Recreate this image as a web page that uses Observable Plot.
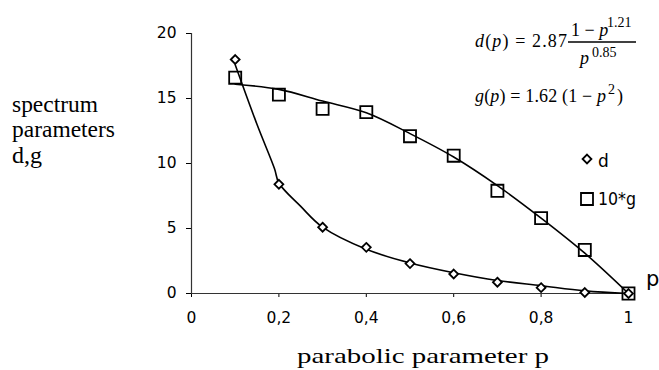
<!DOCTYPE html>
<html><head><meta charset="utf-8">
<script src="https://cdn.jsdelivr.net/npm/d3@7"></script>
<script src="https://cdn.jsdelivr.net/npm/@observablehq/plot@0.6"></script>
<style>body{margin:0;background:#fff} svg{display:block}</style>
</head><body><div id="chart"></div>
<script>
// measured points
const pValues = [0.1, 0.2, 0.3, 0.4, 0.5, 0.6, 0.7, 0.8, 0.9, 1.0];
const dValues = [18.0, 8.4, 5.1, 3.55, 2.3, 1.5, 0.87, 0.45, 0.08, 0.0];
const g10Values = [16.6, 15.3, 14.2, 13.95, 12.1, 10.6, 7.9, 5.8, 3.35, 0.0];
// fitted curves
const dFitP = [0.1, 0.15, 0.19, 0.2, 0.25, 0.3, 0.4, 0.5, 0.6, 0.7, 0.8, 0.9, 1.0];
const dFitV = [17.6, 13.0, 9.6, 8.5, 6.7, 5.1, 3.4, 2.35, 1.6, 1.0, 0.6, 0.2, 0.0];
const gFitP = [0.1, 0.2, 0.3, 0.4, 0.5, 0.6, 0.7, 0.8, 0.9, 1.0];
const gFitV = [16.1, 15.7, 14.8, 13.9, 12.3, 10.5, 8.3, 5.8, 3.1, 0.0];
// ticks
const xTicks = [0, 0.2, 0.4, 0.6, 0.8, 1];
const xTickLabels = ["0", "0,2", "0,4", "0,6", "0,8", "1"];
const yTicks = [0, 5, 10, 15, 20];

const pts = (xs, ys) => xs.map((x, i) => ({x, y: ys[i]}));
const dPts = pts(pValues, dValues);
const gPts = pts(pValues, g10Values);
const dFit = pts(dFitP, dFitV);
const gFit = pts(gFitP, gFitV);

const svg = Plot.plot({
  width: 659, height: 370,
  marginLeft: 191, marginRight: 31, marginTop: 33, marginBottom: 77,
  style: {fontFamily: "DejaVu Sans, sans-serif", fontSize: "15.5px", color: "#000", background: "#fff"},
  x: {domain: [0, 1], ticks: xTicks, tickFormat: d => xTickLabels[xTicks.indexOf(d)], tickSize: 4, tickPadding: 14, label: null},
  y: {domain: [0, 20], ticks: yTicks, tickSize: 5, tickPadding: 10, label: null},
  marks: [
    Plot.ruleY([0], {stroke: "#333", strokeWidth: 1.2}),
    Plot.ruleX([0], {stroke: "#333", strokeWidth: 1.2}),
    Plot.line(gFit, {x: "x", y: "y", curve: "catmull-rom", stroke: "#000", strokeWidth: 1.6}),
    Plot.line(dFit, {x: "x", y: "y", curve: "catmull-rom", stroke: "#000", strokeWidth: 1.6}),
    Plot.dot(gPts, {x: "x", y: "y", symbol: "square", r: 6.8, stroke: "#000", strokeWidth: 1.8, fill: "none"}),
    Plot.dot(dPts, {x: "x", y: "y", symbol: "diamond2", r: 4, stroke: "#000", strokeWidth: 1.8, fill: "#fff"})
  ]
});
document.getElementById("chart").appendChild(svg);

const s = d3.select(svg);
const layer = s.append("g").attr("text-anchor", "start").attr("fill", "#000");
function txt(x, y, str, opts = {}) {
  const t = layer.append("text").attr("x", x).attr("y", y)
    .attr("font-family", opts.family || "Liberation Serif, serif")
    .attr("font-size", opts.size || 16);
  if (opts.len) t.attr("textLength", opts.len).attr("lengthAdjust", opts.adjust || "spacingAndGlyphs");
  if (opts.italic) t.attr("font-style", "italic");
  t.text(str);
  return t;
}
// y title
txt(12, 112, "spectrum", {size: 23, len: 86});
txt(12, 137, "parameters", {size: 23, len: 103});
txt(12, 163, "d,g", {size: 23, len: 30});
// x title
txt(297, 363, "parabolic parameter p", {size: 22, len: 252});
// axis end label
txt(646, 286, "p", {size: 21, family: "DejaVu Sans, sans-serif"});

// formulas
const f1 = layer.append("text").attr("x", 475).attr("y", 47).attr("font-family", "Liberation Serif, serif").attr("font-size", 18)
  .attr("textLength", 92).attr("lengthAdjust", "spacing");
f1.append("tspan").attr("font-style", "italic").text("d");
f1.append("tspan").text("(");
f1.append("tspan").attr("font-style", "italic").text("p");
f1.append("tspan").text(") = 2.87");
const n1 = layer.append("text").attr("x", 571).attr("y", 36).attr("font-family", "Liberation Serif, serif").attr("font-size", 18);
n1.append("tspan").text("1 − ");
n1.append("tspan").attr("font-style", "italic").text("p");
txt(607, 27, "1.21", {size: 14});
layer.append("line").attr("x1", 568).attr("x2", 636).attr("y1", 42).attr("y2", 42).attr("stroke", "#000").attr("stroke-width", 1.3);
txt(580, 64, "p", {size: 18, italic: true});
txt(592, 57, "0.85", {size: 14});
const g1 = layer.append("text").attr("x", 475).attr("y", 102).attr("font-family", "Liberation Serif, serif").attr("font-size", 18)
  .attr("textLength", 131).attr("lengthAdjust", "spacing");
g1.append("tspan").attr("font-style", "italic").text("g");
g1.append("tspan").text("(");
g1.append("tspan").attr("font-style", "italic").text("p");
g1.append("tspan").text(") = 1.62 (1 − ");
g1.append("tspan").attr("font-style", "italic").text("p");
txt(608, 94, "2", {size: 14});
txt(617, 102, ")", {size: 18});

// legend
layer.append("path").attr("d", d3.symbol(d3.symbolDiamond2, 50)()).attr("transform", "translate(587,159)")
  .attr("fill", "none").attr("stroke", "#000").attr("stroke-width", 1.8);
txt(598, 167, "d", {size: 17, family: "DejaVu Sans, sans-serif"});
layer.append("path").attr("d", d3.symbol(d3.symbolSquare, 144)()).attr("transform", "translate(587,199)")
  .attr("fill", "none").attr("stroke", "#000").attr("stroke-width", 1.8);
txt(598, 205, "10*g", {size: 17, family: "DejaVu Sans, sans-serif", len: 38});
</script>
</body></html>
